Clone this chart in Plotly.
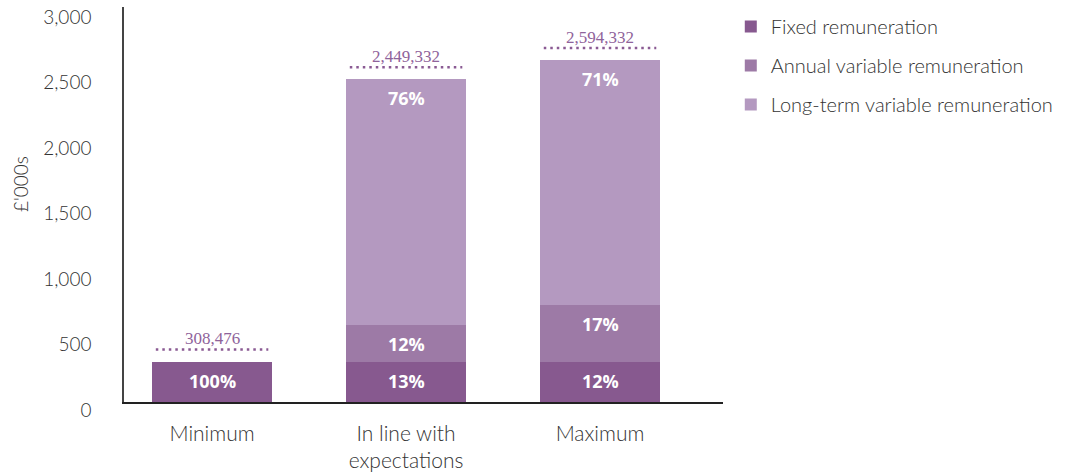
import plotly.graph_objects as go

categories = ["Minimum", "In line with<br>expectations", "Maximum"]
fixed = [308.476, 308.476, 308.476]
annual = [0, 280, 430]
long_term = [0, 1875, 1872]
totals_text = ["308,476", "2,449,332", "2,594,332"]
pct_fixed = ["100%", "13%", "12%"]
pct_annual = ["", "12%", "17%"]
pct_lti = ["", "76%", "71%"]
series_names = ["Fixed remuneration", "Annual variable remuneration", "Long-term variable remuneration"]
colors = ["#87598F", "#9D7AA6", "#B499C0"]
y_ticks = [0, 500, 1000, 1500, 2000, 2500, 3000]
y_ticktext = ["0", "500", "1,000", "1,500", "2,000", "2,500", "3,000"]

x = list(range(len(categories)))
FONT = "Lato, 'Open Sans', sans-serif"
BOLD = "'Open Sans', Lato, sans-serif"

fig = go.Figure()
for name, vals, col in zip(series_names, [fixed, annual, long_term], colors):
    fig.add_trace(go.Bar(x=x, y=vals, name=name, marker=dict(color=col, line=dict(width=0)),
                         width=0.62, legendgroup=name, hoverinfo="skip"))

annotations = []
shapes = []
for i in x:
    segs = [(fixed[i], pct_fixed[i]), (annual[i], pct_annual[i]), (long_term[i], pct_lti[i])]
    base = 0
    for v, t in segs:
        top = base + v
        if v > 0 and t:
            annotations.append(dict(x=i, y=top, xref="x", yref="y", text="<b>" + t + "</b>",
                                    showarrow=False, yanchor="middle", yshift=-19,
                                    font=dict(family=BOLD, size=18, color="white")))
        base = top
    shapes.append(dict(type="line", xref="x", yref="y", x0=i - 0.29, x1=i + 0.29,
                       ysizemode="pixel", yanchor=base, y0=12, y1=12,
                       line=dict(color="#8A5A93", width=2.5, dash="2.5px,4px")))
    annotations.append(dict(x=i, y=base, xref="x", yref="y", text=totals_text[i], showarrow=False,
                            yanchor="middle", yshift=23,
                            font=dict(family="'Liberation Serif', serif", size=17, color="#8F639B")))

annotations.append(dict(xref="paper", yref="paper", x=0, y=0.552, xshift=-103, text="£'000s",
                        textangle=-90, showarrow=False, xanchor="center", yanchor="middle",
                        font=dict(family=FONT, size=19, color="#333333", weight=300)))

fig.update_layout(
    width=1067, height=472,
    margin=dict(l=124, r=344, t=7, b=70, autoexpand=False),
    barmode="stack",
    plot_bgcolor="white", paper_bgcolor="white",
    font=dict(family=FONT, color="#333333"),
    showlegend=True,
    legend=dict(x=1.013, y=1.0, xanchor="left", yanchor="top", traceorder="grouped",
                font=dict(family=FONT, size=20, color="#333333", weight=300), tracegroupgap=10,
                itemclick=False),
    annotations=annotations,
    shapes=shapes,
    xaxis=dict(range=[-0.454, 2.634], tickvals=x, ticktext=categories, showline=True,
               linecolor="#222222", linewidth=1.5, showgrid=False, zeroline=False, ticks="",
               automargin=False, ticklabelstandoff=12,
               tickfont=dict(family=FONT, size=21, color="#333333", weight=300)),
    yaxis=dict(range=[0, 3015], tickvals=y_ticks, ticktext=y_ticktext, showline=True,
               linecolor="#444444", linewidth=1.5, showgrid=False, zeroline=False, ticks="",
               automargin=False, ticklabelstandoff=27, ticklabelshift=8,
               ticklabeloverflow="allow",
               tickfont=dict(family=FONT, size=19, color="#333333", weight=300)),
)

fig.write_html("out.html", config={"displayModeBar": False},
               post_script="document.body.style.margin='0';document.body.style.padding='0';")
